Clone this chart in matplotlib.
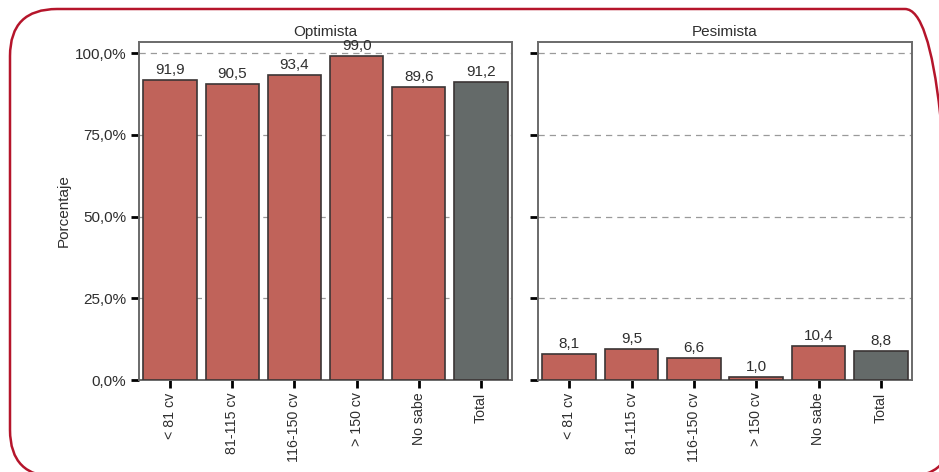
import matplotlib
matplotlib.use("Agg")
import matplotlib.pyplot as plt
from matplotlib.patches import FancyBboxPatch
from matplotlib.ticker import FuncFormatter

categories = ["< 81 cv", "81-115 cv", "116-150 cv", "> 150 cv", "No sabe", "Total"]
optimista = [91.9, 90.5, 93.4, 99.0, 89.6, 91.2]
pesimista = [8.1, 9.5, 6.6, 1.0, 10.4, 8.8]
panel_titles = ["Optimista", "Pesimista"]
yticks = [0, 25, 50, 75, 100]

plt.rcParams['font.family'] = ['Liberation Sans', 'DejaVu Sans']
W, H = 939, 472
fig = plt.figure(figsize=(W / 100, H / 100), dpi=100)

# rounded red frame (pixel units via inches transform)
frame = FancyBboxPatch((10 / 100, (H - 477) / 100), (952 - 10) / 100, (477 - 9) / 100,
                       boxstyle="round,pad=0,rounding_size=0.47",
                       transform=fig.dpi_scale_trans, fill=False,
                       edgecolor="#B5152B", linewidth=1.8, clip_on=False)
fig.patches.append(frame)

red = "#C0635A"
gray = "#646A69"
edge = "#3B3535"
txt = "#2E2E2E"

def px_axes(x0, x1, y0, y1):
    return [x0 / W, (H - y1) / H, (x1 - x0) / W, (y1 - y0) / H]

axes_px = [(139, 512), (538, 912)]
for i, (vals, title) in enumerate(zip([optimista, pesimista], panel_titles)):
    ax = fig.add_axes(px_axes(axes_px[i][0], axes_px[i][1], 42, 380))
    x = list(range(len(categories)))
    colors = [red] * (len(categories) - 1) + [gray]
    ax.bar(x, vals, width=0.86, color=colors, edgecolor=edge, linewidth=1.2, zorder=3)
    for xi, v in zip(x, vals):
        ax.text(xi, v + 0.9, f"{v:.1f}".replace(".", ","), ha="center", va="bottom",
                fontsize=11, color=txt, zorder=4)
    ax.set_xlim(-0.5, len(categories) - 0.5)
    ax.set_ylim(0, 103.4)
    ax.set_yticks(yticks)
    ax.yaxis.grid(True, linestyle=(0, (5, 4)), color="#9A9A9A", linewidth=0.9, zorder=0)
    ax.set_axisbelow(True)
    ax.set_xticks(x)
    ax.set_xticklabels(categories, rotation=90, fontsize=10.2, color=txt)
    if i == 0:
        ax.yaxis.set_major_formatter(FuncFormatter(lambda v, p: f"{v:.1f}%".replace(".", ",")))
        ax.tick_params(axis="y", labelsize=11, labelcolor=txt)
        ax.set_ylabel("Porcentaje", fontsize=11, color=txt, labelpad=3)
    else:
        ax.set_yticklabels([])
    ax.tick_params(axis="both", direction="out", length=6, width=2, color="black", pad=3)
    for s in ax.spines.values():
        s.set_color("#6A6A6A")
        s.set_linewidth(1.4)
    ax.set_title(title, fontsize=11, color=txt, pad=4)

fig.savefig("out.png", dpi=100)
